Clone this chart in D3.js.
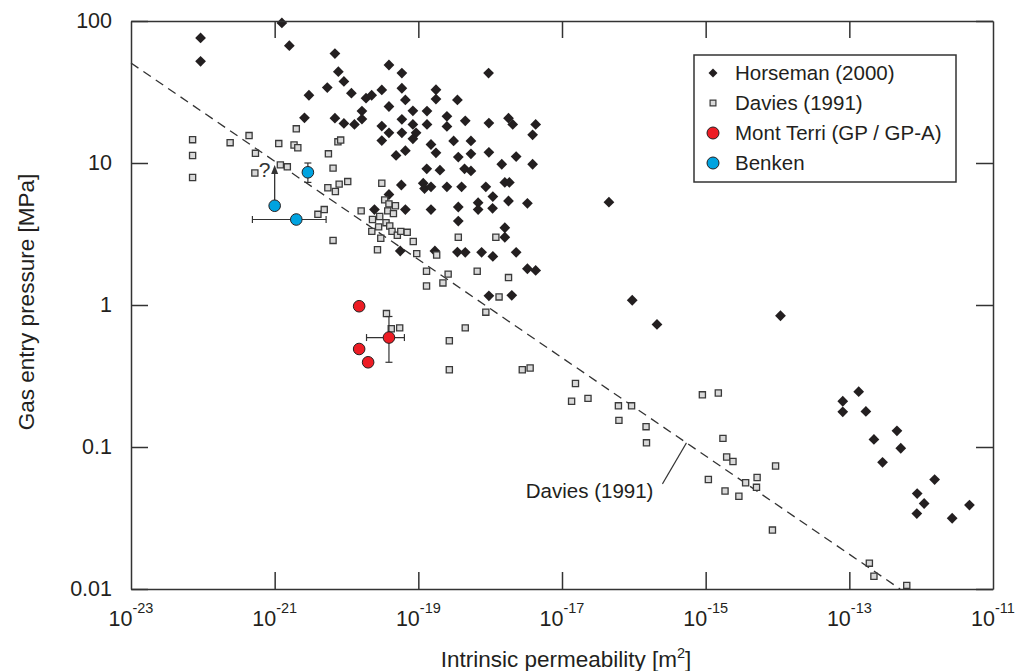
<!DOCTYPE html>
<html>
<head>
<meta charset="utf-8">
<title>Gas entry pressure vs intrinsic permeability</title>
<script src="https://d3js.org/d3.v7.min.js"></script>
<style>
  body { margin: 0; background: #fff; }
  svg { font-family: "Liberation Sans", Arial, Helvetica, sans-serif; }
  .axis path, .axis line { stroke: #333; stroke-width: 1.5; }
  .axis text { fill: #231f20; font-size: 21.5px; }
</style>
</head>
<body>
<div id="chart"></div>
<script>
// tick values
var xExps = [-23, -21, -19, -17, -15, -13, -11];
var yTicks = [100, 10, 1, 0.1, 0.01];

// [permeability m2, pressure MPa]
var horseman = [
  [9.3e-23, 76], [9.3e-23, 52], [1.26e-21, 97], [1.6e-21, 67], [6.9e-21, 59], [7.7e-21, 44],
  [3.9e-20, 49], [5.9e-20, 43], [9.5e-19, 43], [5.4e-21, 34], [9.2e-21, 37.5], [1.17e-20, 31],
  [3.0e-21, 30], [1.87e-20, 28.6], [2.24e-20, 30], [3.1e-20, 32.7], [5.9e-20, 33.6], [6.6e-20, 27.8],
  [1.76e-19, 32.8], [1.76e-19, 28.2], [3.5e-19, 27.8], [3.9e-20, 25], [1.64e-20, 23.2], [8.4e-20, 23.3],
  [1.32e-19, 23.2], [2.5e-19, 21.3], [4.5e-19, 19.8], [9.6e-19, 19.1], [1.8e-18, 20.7], [2.06e-18, 18.7],
  [4.3e-18, 18.7], [3.9e-18, 15.8], [2.6e-21, 20.8], [6.9e-21, 20.7], [9.2e-21, 19], [1.29e-20, 18.7],
  [1.64e-20, 20.4], [3.1e-20, 18.2], [5.9e-20, 20.3], [8.4e-20, 18.7], [1.32e-19, 18.7], [2.5e-19, 18.1],
  [3.9e-20, 16.3], [5.9e-20, 16.3], [9.3e-20, 16.3], [8.4e-20, 14.8], [3.1e-20, 14.4], [1.5e-19, 13.5],
  [1.76e-19, 11.8], [3.1e-19, 14.3], [5.4e-19, 14.3], [6.6e-20, 12.2], [4.9e-20, 11.3], [3.6e-19, 11],
  [5.4e-19, 11.6], [9.6e-19, 11.9], [1.45e-18, 9.8], [2.3e-18, 11.1], [3.9e-18, 9.8], [1.31e-19, 9.1],
  [2.0e-19, 8.9], [4.4e-19, 9.1], [5.4e-19, 8.8], [5.8e-20, 7.0], [1.17e-19, 7.2], [1.22e-19, 6.6],
  [1.5e-19, 6.8], [2.5e-19, 6.8], [4.0e-19, 6.8], [8.7e-19, 6.8], [1.09e-18, 5.8], [1.6e-18, 7.3],
  [1.85e-18, 7.3], [3.9e-20, 6.0], [1.8e-18, 5.4], [3.3e-18, 5.2], [6.8e-19, 5.25], [6.8e-19, 4.7],
  [1.08e-18, 4.8], [2.45e-20, 4.7], [6.6e-20, 4.7], [1.5e-19, 4.7], [3.6e-19, 4.9], [3.6e-19, 3.9],
  [1.6e-18, 3.5], [1.6e-18, 3.0], [5.6e-20, 2.4], [1.7e-19, 2.4], [3.5e-19, 2.36], [4.5e-19, 2.35],
  [7.6e-19, 2.35], [1.09e-18, 2.2], [2.3e-18, 2.35], [3.3e-18, 1.8], [4.3e-18, 1.75], [9.6e-19, 1.16],
  [2.0e-18, 1.17], [4.5e-17, 5.3], [9.5e-17, 1.08], [2.1e-16, 0.73], [1.1e-14, 0.84],
  [1.35e-13, 0.245], [8.1e-14, 0.21], [8.1e-14, 0.177], [1.7e-13, 0.178], [4.6e-13, 0.13], [2.2e-13, 0.113],
  [5.2e-13, 0.098], [2.9e-13, 0.078], [1.54e-12, 0.059], [8.8e-13, 0.047], [1.1e-12, 0.040], [8.7e-13, 0.034],
  [4.7e-12, 0.039], [2.7e-12, 0.0315]
];

var davies = [
  [7.2e-23, 14.6], [7.2e-23, 11.3], [7.2e-23, 7.9], [2.4e-22, 13.9], [4.4e-22, 15.6], [5.4e-22, 11.7],
  [5.3e-22, 8.5], [1.14e-21, 13.7], [2.0e-21, 17.4], [1.86e-21, 13.4], [2.1e-21, 12.8], [1.2e-21, 9.7],
  [1.5e-21, 9.4], [5.6e-21, 11.6], [7.6e-21, 14.1], [8.3e-21, 14.5], [6.5e-21, 9.2], [5.5e-21, 6.7],
  [7.0e-21, 6.3], [7.9e-21, 7.1], [1.04e-20, 7.4], [4.0e-21, 4.35], [4.9e-21, 4.7], [6.5e-21, 2.85],
  [1.6e-20, 4.6], [3.1e-20, 7.2], [3.4e-20, 5.5], [3.9e-20, 5.15], [4.8e-20, 5.0], [3.75e-20, 4.6],
  [4.5e-20, 4.4], [2.3e-20, 4.0], [2.9e-20, 4.2], [2.8e-20, 3.55], [3.55e-20, 3.8], [4.0e-20, 3.6],
  [2.25e-20, 3.3], [3.0e-20, 2.95], [4.3e-20, 3.3], [5.1e-20, 3.1], [5.7e-20, 3.3], [7.0e-20, 3.25],
  [8.5e-20, 2.8], [2.7e-20, 2.45], [9.5e-20, 2.3], [1.8e-19, 2.25], [3.6e-19, 3.0], [1.2e-18, 3.0],
  [1.3e-19, 1.73], [1.3e-19, 1.36], [2.2e-19, 1.43], [2.6e-19, 1.65], [6.6e-19, 1.73], [1.8e-18, 1.56],
  [1.33e-18, 1.14], [3.6e-20, 0.87], [4.2e-20, 0.68], [5.5e-20, 0.69], [8.7e-19, 0.89], [4.5e-19, 0.69],
  [2.7e-19, 0.56], [2.7e-19, 0.35], [2.8e-18, 0.35], [3.6e-18, 0.36], [1.54e-17, 0.28], [1.36e-17, 0.21],
  [2.3e-17, 0.22], [6.1e-17, 0.195], [9.3e-17, 0.195], [6.2e-17, 0.154], [1.48e-16, 0.139], [1.5e-16, 0.107],
  [9.0e-16, 0.233], [1.5e-15, 0.24], [1.74e-15, 0.115], [1.96e-15, 0.085], [2.4e-15, 0.079], [1.09e-15, 0.059],
  [1.86e-15, 0.049], [2.9e-15, 0.045], [3.6e-15, 0.056], [5.2e-15, 0.061], [5.1e-15, 0.052], [9.4e-15, 0.0735],
  [8.5e-15, 0.026], [1.9e-13, 0.0152], [2.2e-13, 0.0123], [6.3e-13, 0.0106]
];

var montTerri = [[1.5e-20, 0.98], [1.5e-20, 0.49], [2.0e-20, 0.395], [3.9e-20, 0.59]];
var benken = [[1.0e-21, 5.0], [2.0e-21, 4.0], [2.9e-21, 8.6]];

// error bars: horizontal [kMin, kMax, P], vertical [k, Pmax, Pmin]
var montTerriErrX = [[1.9e-20, 6.4e-20, 0.59]];
var montTerriErrY = [[3.9e-20, 0.83, 0.395]];
var benkenErrX = [[4.9e-22, 5.2e-21, 4.0]];
var benkenErrY = [[2.9e-21, 10.0, 7.3]];
// lower bound arrow [k, from P, to P]
var benkenArrow = [1.0e-21, 5.0, 9.7];

// Davies (1991) trend, end points
var daviesLine = [[1e-23, 50.6], [5.1e-13, 0.01]];
var daviesLabelAt = 5.4e-16;

var legendLabels = ["Horseman (2000)", "Davies (1991)", "Mont Terri (GP / GP-A)", "Benken"];

var W = 1017, H = 671;
var svg = d3.select("#chart").append("svg").attr("width", W).attr("height", H);

var x = d3.scaleLog().domain([1e-23, 1e-11]).range([131, 993]);
var y = d3.scaleLog().domain([0.01, 100]).range([589, 21]);

var dark = "#231f20";
var line = d3.line().x(function (d) { return x(d[0]); }).y(function (d) { return y(d[1]); });

// trend line
svg.append("path")
  .datum(daviesLine)
  .attr("d", line)
  .attr("fill", "none")
  .attr("stroke", "#333")
  .attr("stroke-width", 1.3)
  .attr("stroke-dasharray", "9,6");

// label for trend line
var lk0 = Math.log10(daviesLine[0][0]), lk1 = Math.log10(daviesLine[1][0]);
var lp0 = Math.log10(daviesLine[0][1]), lp1 = Math.log10(daviesLine[1][1]);
var t = (Math.log10(daviesLabelAt) - lk0) / (lk1 - lk0);
var ax = x(daviesLabelAt), ay = y(Math.pow(10, lp0 + t * (lp1 - lp0)));
svg.append("line")
  .attr("x1", ax - 24).attr("y1", ay + 41)
  .attr("x2", ax).attr("y2", ay)
  .attr("stroke", "#333").attr("stroke-width", 1.1);
svg.append("text")
  .attr("x", ax - 33).attr("y", ay + 55)
  .attr("text-anchor", "end")
  .style("font-size", "20.5px")
  .attr("fill", dark)
  .text("Davies (1991)");

// Horseman diamonds
svg.append("g").selectAll("path")
  .data(horseman)
  .join("path")
  .attr("transform", function (d) { return "translate(" + x(d[0]) + "," + y(d[1]) + ") rotate(45)"; })
  .attr("d", d3.symbol(d3.symbolSquare, 58))
  .attr("fill", dark);

// Davies squares
svg.append("g").selectAll("path")
  .data(davies)
  .join("path")
  .attr("transform", function (d) { return "translate(" + x(d[0]) + "," + y(d[1]) + ")"; })
  .attr("d", d3.symbol(d3.symbolSquare, 38))
  .attr("fill", "#d9d9d9")
  .attr("stroke", "#3a3a3a")
  .attr("stroke-width", 1.3);

// error bars
var eb = svg.append("g").attr("stroke", "#333").attr("stroke-width", 1.2);
function errX(data) {
  data.forEach(function (d) {
    var x1 = x(d[0]), x2 = x(d[1]), yy = y(d[2]);
    eb.append("line").attr("x1", x1).attr("x2", x2).attr("y1", yy).attr("y2", yy);
    eb.append("line").attr("x1", x1).attr("x2", x1).attr("y1", yy - 3.5).attr("y2", yy + 3.5);
    eb.append("line").attr("x1", x2).attr("x2", x2).attr("y1", yy - 3.5).attr("y2", yy + 3.5);
  });
}
function errY(data) {
  data.forEach(function (d) {
    var xx = x(d[0]), y1 = y(d[1]), y2 = y(d[2]);
    eb.append("line").attr("x1", xx).attr("x2", xx).attr("y1", y1).attr("y2", y2);
    eb.append("line").attr("x1", xx - 3.5).attr("x2", xx + 3.5).attr("y1", y1).attr("y2", y1);
    eb.append("line").attr("x1", xx - 3.5).attr("x2", xx + 3.5).attr("y1", y2).attr("y2", y2);
  });
}
errX(montTerriErrX); errY(montTerriErrY);
errX(benkenErrX); errY(benkenErrY);

// arrow (lower bound)
var axr = x(benkenArrow[0]), ayFrom = y(benkenArrow[1]), ayTo = y(benkenArrow[2]);
svg.append("line")
  .attr("x1", axr).attr("x2", axr)
  .attr("y1", ayFrom).attr("y2", ayTo + 6)
  .attr("stroke", "#333").attr("stroke-width", 1.3);
svg.append("path")
  .attr("d", "M" + axr + "," + ayTo + "L" + (axr - 3.5) + "," + (ayTo + 9) + "L" + (axr + 3.5) + "," + (ayTo + 9) + "Z")
  .attr("fill", "#333");
svg.append("text")
  .attr("x", axr - 10).attr("y", ayTo + 12)
  .attr("text-anchor", "middle")
  .style("font-size", "21px")
  .attr("fill", "#333")
  .text("?");

// Mont Terri and Benken circles
svg.append("g").selectAll("circle")
  .data(montTerri)
  .join("circle")
  .attr("cx", function (d) { return x(d[0]); })
  .attr("cy", function (d) { return y(d[1]); })
  .attr("r", 5.8)
  .attr("fill", "#ed1c24")
  .attr("stroke", dark)
  .attr("stroke-width", 1);

svg.append("g").selectAll("circle")
  .data(benken)
  .join("circle")
  .attr("cx", function (d) { return x(d[0]); })
  .attr("cy", function (d) { return y(d[1]); })
  .attr("r", 5.8)
  .attr("fill", "#00a3e0")
  .attr("stroke", dark)
  .attr("stroke-width", 1);

// axes (inward ticks, frame)
var xTickVals = xExps.slice(1, -1).map(function (e) { return Math.pow(10, e); });
svg.append("g").attr("class", "axis")
  .attr("transform", "translate(0,589)")
  .call(d3.axisBottom(x).tickValues(xTickVals).tickSizeInner(-17).tickSizeOuter(0).tickFormat(""));
svg.append("g").attr("class", "axis")
  .attr("transform", "translate(0,21)")
  .call(d3.axisTop(x).tickValues(xTickVals).tickSizeInner(-17).tickSizeOuter(0).tickFormat(""));
svg.append("g").attr("class", "axis")
  .attr("transform", "translate(131,0)")
  .call(d3.axisLeft(y).tickValues(yTicks).tickSizeInner(-17).tickSizeOuter(0).tickPadding(19)
    .tickFormat(function (d) { return String(d); }));
svg.append("g").attr("class", "axis")
  .attr("transform", "translate(993,0)")
  .call(d3.axisRight(y).tickValues(yTicks).tickSizeInner(-17).tickSizeOuter(0).tickFormat(""));

// x tick labels with exponents
var xl = svg.append("g").selectAll("text")
  .data(xExps)
  .join("text")
  .attr("x", function (e) { return x(Math.pow(10, e)); })
  .attr("y", 626)
  .attr("text-anchor", "middle")
  .attr("fill", dark)
  .style("font-size", "21.5px");
xl.append("tspan").text("10");
xl.append("tspan").attr("dy", -13).style("font-size", "14.5px").text(function (e) { return String(e); });

// axis titles
var xt = svg.append("text")
  .attr("x", 566).attr("y", 667)
  .attr("text-anchor", "middle")
  .attr("fill", dark)
  .style("font-size", "22.5px");
xt.append("tspan").text("Intrinsic permeability [m");
xt.append("tspan").attr("dy", -9).style("font-size", "14.5px").text("2");
xt.append("tspan").attr("dy", 9).text("]");

svg.append("text")
  .attr("transform", "translate(34,302) rotate(-90)")
  .attr("text-anchor", "middle")
  .attr("fill", dark)
  .style("font-size", "22.5px")
  .text("Gas entry pressure [MPa]");

// legend
var lg = svg.append("g").attr("transform", "translate(694,55)");
lg.append("rect")
  .attr("width", 262).attr("height", 127)
  .attr("fill", "#fff").attr("stroke", "#333").attr("stroke-width", 1.5);
var items = lg.selectAll("g.item")
  .data(legendLabels)
  .join("g")
  .attr("class", "item")
  .attr("transform", function (d, i) { return "translate(19," + (18 + i * 30) + ")"; });
items.each(function (d, i) {
  var g = d3.select(this);
  if (i === 0) {
    g.append("path").attr("transform", "rotate(45)").attr("d", d3.symbol(d3.symbolSquare, 40)).attr("fill", dark);
  } else if (i === 1) {
    g.append("path").attr("d", d3.symbol(d3.symbolSquare, 34)).attr("fill", "#d9d9d9")
      .attr("stroke", "#3a3a3a").attr("stroke-width", 1.2);
  } else {
    g.append("circle").attr("r", 6).attr("fill", i === 2 ? "#ed1c24" : "#00a3e0")
      .attr("stroke", dark).attr("stroke-width", 1);
  }
});
items.append("text")
  .attr("x", 22).attr("dy", "0.35em")
  .attr("fill", dark)
  .style("font-size", "20.5px")
  .text(function (d) { return d; });
</script>
</body>
</html>
